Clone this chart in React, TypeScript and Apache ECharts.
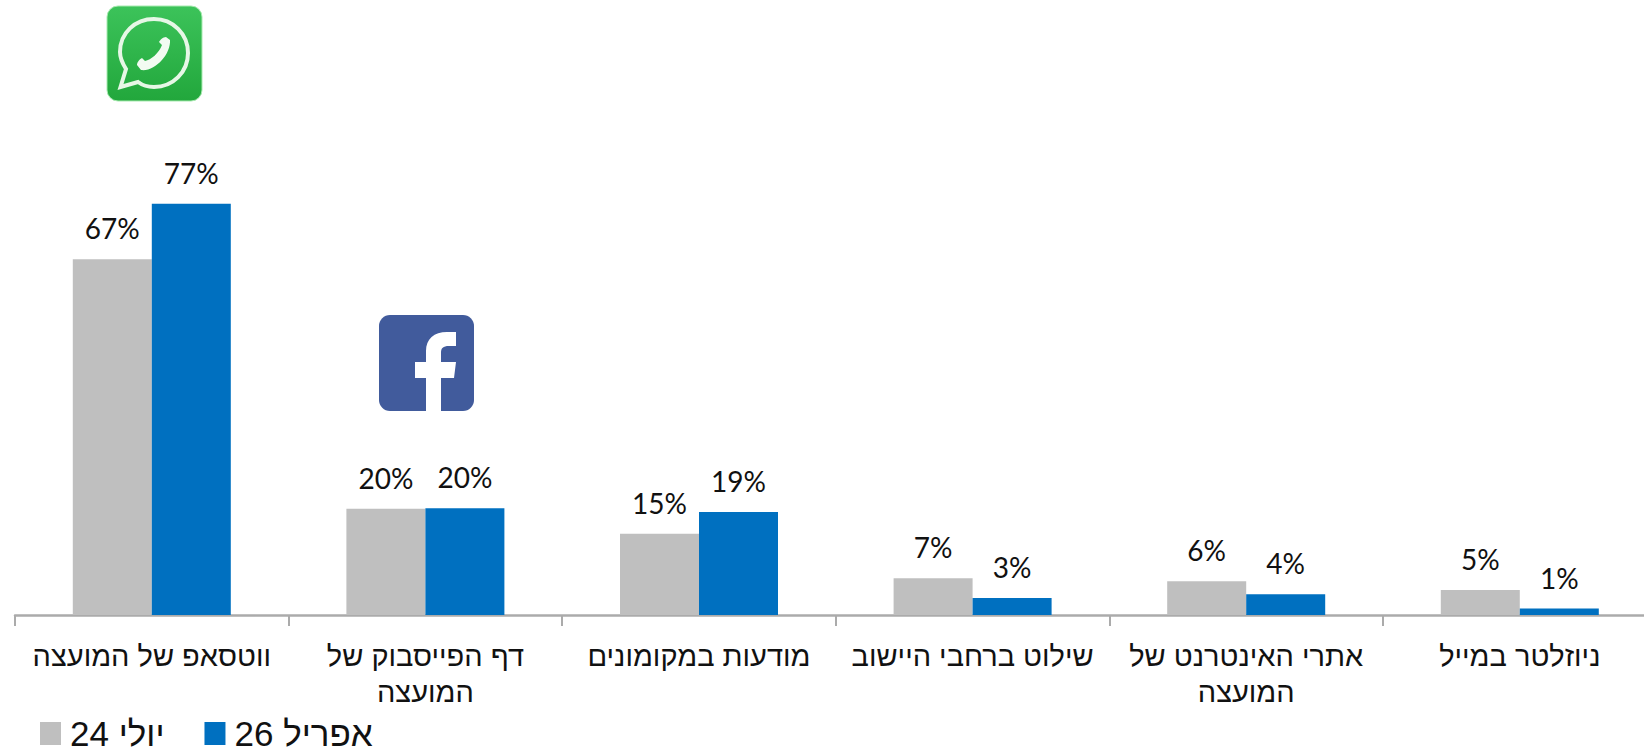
import React, { useEffect, useRef } from "react";
import * as echarts from "echarts";

const categories = [
  "ווטסאפ של המועצה",
  "דף הפייסבוק של\nהמועצה",
  "מודעות במקומונים",
  "שילוט ברחבי היישוב",
  "אתרי האינטרנט של\nהמועצה",
  "ניוזלטר במייל",
];
const july24 = [66.6, 19.9, 15.2, 6.9, 6.3, 4.7];
const april26 = [77, 20, 19.3, 3.2, 3.9, 1.2];
const seriesNames = ["יולי 24\u200f", "אפריל 26\u200f"];
const colors = ["#BFBFBF", "#0070C0"];

const BUBBLE =
  "M13.5 81 L19 63 C14 55 13 50 13 46 C13 27 28 13 47 13 C66 13 81 28 81 47 C81 66 66 81 47 81 C41 81 35 79 31 76 Z";
const PHONE =
  "M30 59 C30 56 33 53 35 52 L38 55 C44 54 52 47 55 39 L52 36 C53 34 56 31 59 31 L63 34 C64 48 48 66 34 64 Z";
const F_GLYPH =
  "M47 97 V63 H36 V47 H47 V36 C47 24 55 17 68 17 H77 V31 H70 C64 31 62 33 62 38 V47 H77 L75 63 H62 V97 Z";
echarts.graphic.registerShape("waBubble", echarts.graphic.extendPath(BUBBLE, {}));
echarts.graphic.registerShape("waPhone", echarts.graphic.extendPath(PHONE, {}));
echarts.graphic.registerShape("fbGlyph", echarts.graphic.extendPath(F_GLYPH, {}));

export default function App() {
  const ref = useRef<HTMLDivElement>(null);
  useEffect(() => {
    document.body.style.margin = "0";
    const chart = echarts.init(ref.current!, undefined, { renderer: "svg" });
    const mkSeries = (name: string, data: number[], color: string) => ({
      name,
      type: "bar",
      data,
      barWidth: 79,
      barGap: "0%",
      itemStyle: { color },
      label: {
        show: true,
        position: "top",
        distance: 17,
        formatter: (p: any) => Math.round(p.value) + "%",
        fontFamily: "Lato",
        fontSize: 28,
        color: "#111111",
      },
    });
    chart.setOption({
      animation: false,
      backgroundColor: "#ffffff",
      grid: { left: 15, top: 27.6, width: 1641.6, height: 587.4 },
      legend: {
        left: 40,
        top: 716,
        padding: 0,
        itemWidth: 21,
        itemHeight: 23,
        itemGap: 40,
        icon: "rect",
        textStyle: { fontFamily: "Liberation Sans", fontSize: 35, color: "#111111", padding: [0, 0, 0, 4] },
        data: seriesNames,
      },
      xAxis: {
        type: "category",
        data: categories,
        axisLine: { lineStyle: { color: "#ABABAB", width: 2.5 } },
        axisTick: { show: true, length: 11, lineStyle: { color: "#ABABAB", width: 2 } },
        axisLabel: {
          interval: 0,
          margin: 23,
          fontFamily: "Liberation Sans",
          fontSize: 29,
          lineHeight: 36,
          color: "#111111",
        },
      },
      yAxis: { type: "value", min: 0, max: 110, show: false, splitLine: { show: false } },
      series: [mkSeries(seriesNames[0], july24, colors[0]), mkSeries(seriesNames[1], april26, colors[1])],
      graphic: [
        {
          type: "group",
          x: 107,
          y: 6,
          children: [
            {
              type: "rect",
              shape: { x: 0, y: 0, width: 95, height: 95, r: 11 },
              style: {
                fill: {
                  type: "linear", x: 0, y: 0, x2: 0, y2: 1,
                  colorStops: [
                    { offset: 0, color: "#3CC35A" },
                    { offset: 1, color: "#22A73C" },
                  ],
                },
                stroke: "#A8EBB0",
                lineWidth: 1,
              },
            },
            { type: "waBubble", style: { fill: "none", stroke: "#E6F7E6", lineWidth: 4 } },
            { type: "waPhone", style: { fill: "#F2FBF2" } },
          ],
        },
        {
          type: "group",
          x: 379,
          y: 315,
          children: [
            { type: "rect", shape: { x: 0, y: 0, width: 95, height: 96, r: 11 }, style: { fill: "#415B9C" } },
            { type: "fbGlyph", style: { fill: "#ffffff" } },
          ],
        },
      ],
    });
    return () => chart.dispose();
  }, []);
  return (
    <div style={{ width: 1644, height: 753, overflow: "hidden" }}>
      <div ref={ref} style={{ width: 1700, height: 753 }} />
    </div>
  );
}
